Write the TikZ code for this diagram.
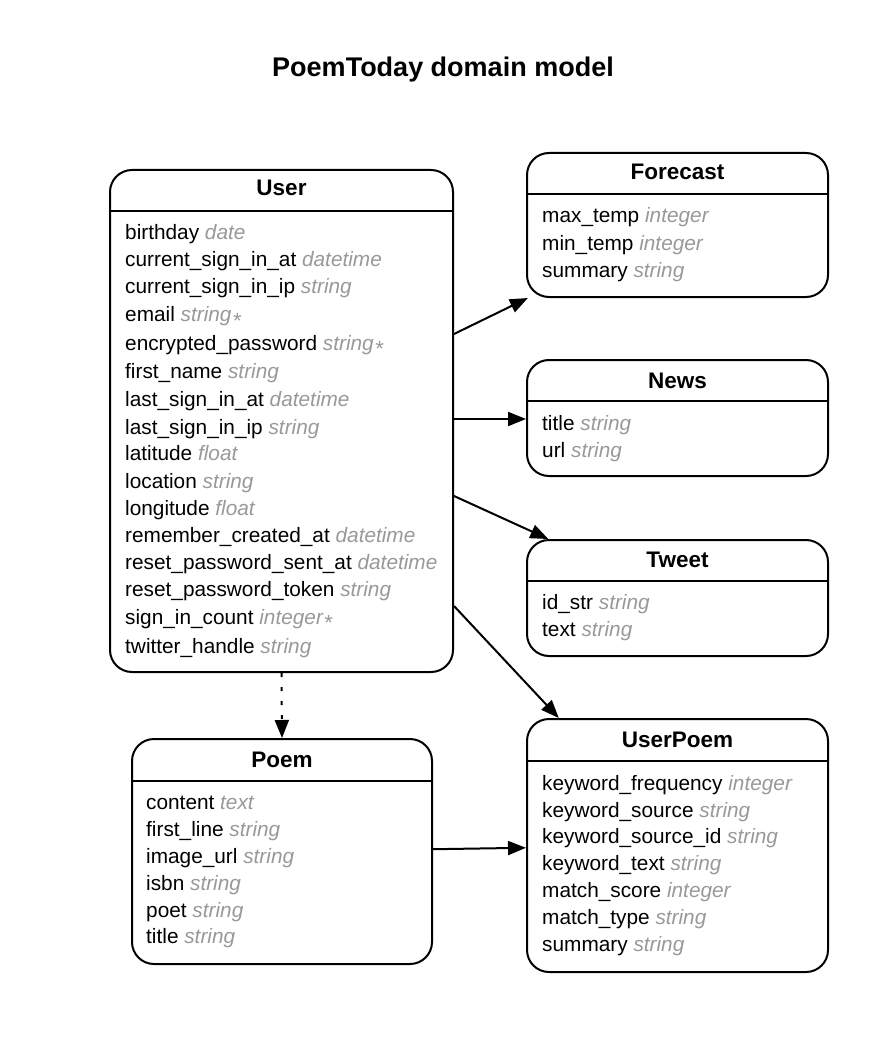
\documentclass[tikz,border=0pt]{standalone}
\usepackage{fontspec}
\setmainfont{Liberation Sans}
\usepackage{xcolor}
\definecolor{colorType}{gray}{0.6}
\usetikzlibrary{arrows.meta, positioning}
\newcommand{\ftype}[1]{\textcolor{colorType}{\itshape #1}}
\newcommand{\fneed}{\kern1.5pt\raisebox{-6.5pt}{\textcolor{colorType}{\fontsize{22}{22}\selectfont *}}}

\begin{document}
\begin{tikzpicture}[x=1pt, y=-1pt,
  entity/.style={draw, line width=2pt, rounded corners=22pt, inner sep=0pt},
  header/.style={anchor=base, inner sep=0pt, font=\fontsize{22.5}{27}\selectfont\bfseries},
  field/.style={anchor=base west, inner sep=0pt, font=\fontsize{20.8}{27}\selectfont},
  rule/.style={line width=2pt},
  link/.style={line width=2pt, -{Triangle[length=18pt, width=14pt]}},
  optional/.style={link, dash pattern=on 4pt off 10pt}]
\path[use as bounding box, fill=white] (0,0) rectangle (887,1040);
\node[anchor=base, inner sep=0pt, font=\fontsize{27}{32}\selectfont\bfseries] (title) at (443,77) {PoemToday domain model};

% User
\node[entity, minimum width=343pt, minimum height=502pt] (user) at (281.5,421) {};
\node[header] (user-name) at (281.5,196) {User};
\draw[rule] ([yshift=-42pt]user.north west) -- ([yshift=-42pt]user.north east);
\foreach \y/\f [count=\i] in {240/{birthday \ftype{date}}, 267/{current\_sign\_in\_at \ftype{datetime}},
  294/{current\_sign\_in\_ip \ftype{string}}, 321.5/{email \ftype{string}\fneed},
  350/{encrypted\_password \ftype{string}\fneed}, 378/{first\_name \ftype{string}},
  406/{last\_sign\_in\_at \ftype{datetime}}, 434/{last\_sign\_in\_ip \ftype{string}},
  460/{latitude \ftype{float}}, 488/{location \ftype{string}}, 515/{longitude \ftype{float}},
  542/{remember\_created\_at \ftype{datetime}}, 569/{reset\_password\_sent\_at \ftype{datetime}},
  596/{reset\_password\_token \ftype{string}}, 624/{sign\_in\_count \ftype{integer}\fneed},
  653/{twitter\_handle \ftype{string}}}
  \node[field] (user-f\i) at (125,\y) {\f};

% Forecast
\node[entity, minimum width=301pt, minimum height=144pt] (forecast) at (677.5,225) {};
\node[header] (forecast-name) at (677.5,180) {Forecast};
\draw[rule] ([yshift=-42pt]forecast.north west) -- ([yshift=-42pt]forecast.north east);
\foreach \y/\f [count=\i] in {223/{max\_temp \ftype{integer}}, 250.5/{min\_temp \ftype{integer}},
  277.5/{summary \ftype{string}}}
  \node[field] (forecast-f\i) at (542,\y) {\f};

% News
\node[entity, minimum width=301pt, minimum height=116pt] (news) at (677.5,418) {};
\node[header] (news-name) at (677.5,388) {News};
\draw[rule] ([yshift=-42pt]news.north west) -- ([yshift=-42pt]news.north east);
\foreach \y/\f [count=\i] in {430/{title \ftype{string}}, 457/{url \ftype{string}}}
  \node[field] (news-f\i) at (542,\y) {\f};

% Tweet
\node[entity, minimum width=301pt, minimum height=116pt] (tweet) at (677.5,598) {};
\node[header] (tweet-name) at (677.5,567) {Tweet};
\draw[rule] ([yshift=-42pt]tweet.north west) -- ([yshift=-42pt]tweet.north east);
\foreach \y/\f [count=\i] in {609/{id\_str \ftype{string}}, 636/{text \ftype{string}}}
  \node[field] (tweet-f\i) at (542,\y) {\f};

% UserPoem
\node[entity, minimum width=301pt, minimum height=253pt] (userpoem) at (677.5,845.5) {};
\node[header] (userpoem-name) at (677.5,747) {UserPoem};
\draw[rule] ([yshift=-43pt]userpoem.north west) -- ([yshift=-43pt]userpoem.north east);
\foreach \y/\f [count=\i] in {790/{keyword\_frequency \ftype{integer}}, 817/{keyword\_source \ftype{string}},
  843.5/{keyword\_source\_id \ftype{string}}, 870/{keyword\_text \ftype{string}},
  897/{match\_score \ftype{integer}}, 924/{match\_type \ftype{string}}, 951.5/{summary \ftype{string}}}
  \node[field] (userpoem-f\i) at (542,\y) {\f};

% Poem
\node[entity, minimum width=300pt, minimum height=225pt] (poem) at (282,851.5) {};
\node[header] (poem-name) at (282,767) {Poem};
\draw[rule] ([yshift=-43pt]poem.north west) -- ([yshift=-43pt]poem.north east);
\foreach \y/\f [count=\i] in {809/{content \ftype{text}}, 836/{first\_line \ftype{string}},
  863/{image\_url \ftype{string}}, 890/{isbn \ftype{string}}, 917/{poet \ftype{string}},
  943.5/{title \ftype{string}}}
  \node[field] (poem-f\i) at (146,\y) {\f};

% relations
\coordinate (user-to-forecast) at ([yshift=-165pt]user.north east);
\coordinate (user-to-news) at ([yshift=-250pt]user.north east);
\coordinate (user-to-tweet) at ([yshift=-327pt]user.north east);
\coordinate (user-to-userpoem) at ([yshift=-437pt]user.north east);
\draw[link] (user-to-forecast) -- (forecast);
\draw[link] (user-to-news) -- (user-to-news -| news.west);
\draw[link] (user-to-tweet) -- (tweet);
\draw[link] (user-to-userpoem) -- (userpoem);
\draw[link] (poem) -- (userpoem);
\draw[optional] (user.south) -- (poem.north);
\end{tikzpicture}
\end{document}
